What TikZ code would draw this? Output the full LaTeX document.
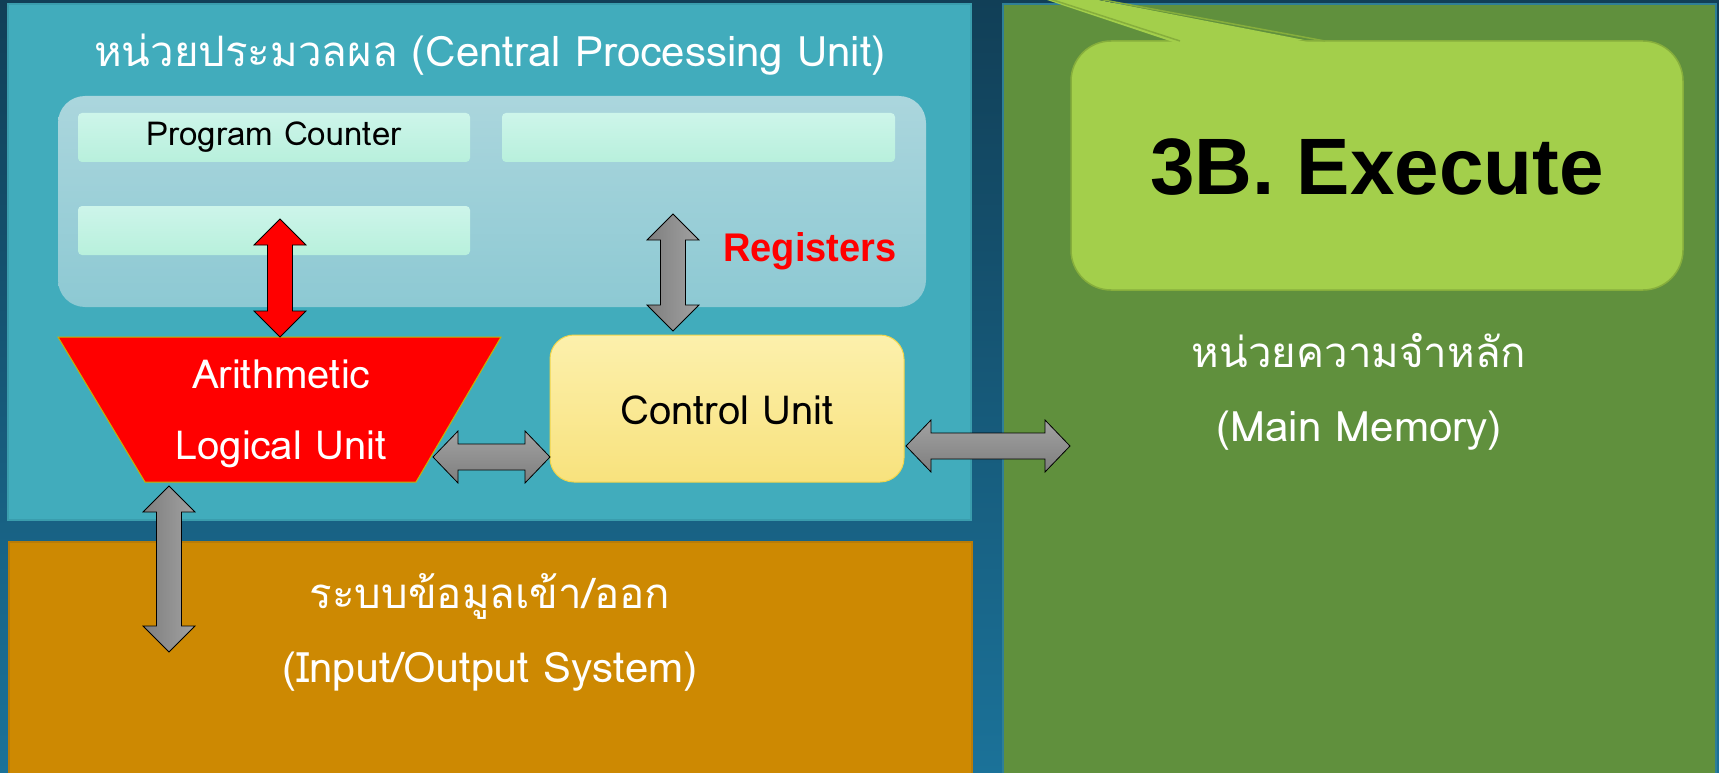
\documentclass[tikz,border=0pt]{standalone}
\usepackage{fontspec}
\setmainfont{Liberation Sans}
\newfontfamily\thaifont[Script=Thai]{Loma}
\newfontfamily\headfont[FakeStretch=0.95]{Liberation Sans}
\usetikzlibrary{calc}
\definecolor{bgtop}{HTML}{113F57}
\definecolor{bgbot}{HTML}{1B7299}
\definecolor{cpufill}{HTML}{41ACBC}
\definecolor{cpuline}{HTML}{3A9DAD}
\definecolor{iofill}{HTML}{CD8902}
\definecolor{ioline}{HTML}{B97C08}
\definecolor{memfill}{HTML}{60903D}
\definecolor{memline}{HTML}{2F7F96}
\definecolor{calfill}{HTML}{A3CF4B}
\definecolor{calline}{HTML}{86AE3C}
\definecolor{regtop}{HTML}{ABD6DD}
\definecolor{regbot}{HTML}{8DC9D3}
\definecolor{celltop}{HTML}{CDF5EA}
\definecolor{cellbot}{HTML}{B8F0DC}
\definecolor{cutop}{HTML}{FCF0AC}
\definecolor{cubot}{HTML}{F8E27D}
\definecolor{culine}{HTML}{F0D54A}
\definecolor{aluline}{HTML}{C8B400}
\definecolor{arrlight}{HTML}{A2A2A2}
\definecolor{arrdark}{HTML}{7E7E7E}
\tikzset{
  panel/.style={anchor=north west, inner sep=0pt, outer sep=0pt},
  lbl/.style={text=white, inner sep=0pt, font=\thaifont\fontsize{40}{44}\selectfont},
  biglbl/.style={lbl, font=\thaifont\fontsize{42}{46}\selectfont},
  cell/.style={panel, rounded corners=4pt, top color=celltop, bottom color=cellbot,
    minimum height=49pt},
  grayarrowv/.style={draw=black, line width=0.8pt, left color=arrdark, right color=arrlight},
  grayarrowh/.style={draw=black, line width=0.8pt, top color=arrlight, bottom color=arrdark},
  redarrow/.style={draw=black, line width=0.8pt, fill=red},
}
\newcommand\vdarrow[3]{%
  \path[#1] let \p1=#2, \p2=#3 in
   (\x1,\y1) -- (\x1+26pt,\y1-26pt) -- (\x1+12.5pt,\y1-26pt) -- (\x1+12.5pt,\y2+26pt)
   -- (\x1+26pt,\y2+26pt) -- (\x1,\y2) -- (\x1-26pt,\y2+26pt) -- (\x1-12.5pt,\y2+26pt)
   -- (\x1-12.5pt,\y1-26pt) -- (\x1-26pt,\y1-26pt) -- cycle;}
\newcommand\hdarrow[3]{%
  \path[#1] let \p1=#2, \p2=#3 in
   (\x1,\y1) -- (\x1+25pt,\y1+26pt) -- (\x1+25pt,\y1+13pt) -- (\x2-25pt,\y1+13pt)
   -- (\x2-25pt,\y1+26pt) -- (\x2,\y1) -- (\x2-25pt,\y1-26pt) -- (\x2-25pt,\y1-13pt)
   -- (\x1+25pt,\y1-13pt) -- (\x1+25pt,\y1-26pt) -- cycle;}
\begin{document}
\begin{tikzpicture}[x=1pt,y=-1pt]
\useasboundingbox (0,0) rectangle (1719,773);
\clip (0,0) rectangle (1719,773);
\shade[top color=bgtop, bottom color=bgbot] (0,0) rectangle (1719,773);

% main boxes
\node[panel, fill=cpufill, draw=cpuline, line width=1.5pt, minimum width=963pt, minimum height=516pt] (cpu) at (8,4) {};
\node[panel, fill=iofill, draw=ioline, line width=1.5pt, minimum width=963pt, minimum height=280pt] (io) at (9,542) {};
\node[panel, fill=memfill, draw=memline, line width=1.5pt, minimum width=713pt, minimum height=800pt] (mem) at (1003,4) {};

% callout
\fill[calfill] (1180,44) -- (985,-22) -- (1325,44) -- cycle;
\node[panel, fill=calfill, draw=calline, line width=1.5pt, rounded corners=40pt, minimum width=612pt, minimum height=249pt] (exec) at (1071,41) {};
\fill[calfill] (1182,45) -- (987,-20) -- (1323,45) -- cycle;
\draw[calline, line width=1.5pt] (1180,41) -- (985,-22) -- (1325,41);
\node[font=\bfseries\fontsize{80}{90}\selectfont, text=black] (exectxt) at ([yshift=-2pt]exec.center) {3B. Execute};

% CPU title
\node[lbl, font=\thaifont\fontsize{42}{46}\selectfont] (cputitle) at (490,55) {หน่วยประมวลผล (Central Processing Unit)};

% registers
\node[panel, rounded corners=27pt, top color=regtop, bottom color=regbot, minimum width=868pt, minimum height=211pt] (regs) at (58,96) {};
\node[cell, minimum width=392pt] (pc) at (78,113) {};
\node[font=\thaifont\fontsize{33}{36}\selectfont, text=black] (pctxt) at (pc.center) {Program Counter};
\node[cell, minimum width=393pt] (r2) at (502,113) {};
\node[cell, minimum width=392pt] (r3) at (78,206) {};
\node[font=\headfont\bfseries\fontsize{40}{44}\selectfont, text=red, inner sep=0pt] (reglbl) at (810,251) {Registers};

% ALU
\coordinate (aluNW) at (58,337);
\coordinate (aluNE) at (501,337);
\coordinate (aluSE) at (416,482);
\coordinate (aluSW) at (145,482);
\fill[red, draw=aluline, line width=1pt] (aluNW) -- (aluNE) -- (aluSE) -- (aluSW) -- cycle;
\node[lbl] (alu1) at (281,374) {Arithmetic};
\node[lbl] (alu2) at (281,449) {Logical Unit};

% control unit
\node[panel, rounded corners=24pt, top color=cutop, bottom color=cubot, draw=culine, line width=1pt, minimum width=354pt, minimum height=147pt] (cu) at (550,335) {};
\node[font=\thaifont\fontsize{40}{44}\selectfont, text=black, inner sep=0pt] (cutxt) at (727,410) {Control Unit};

% IO and memory texts
\node[biglbl] (iothai) at (490,596) {ระบบข้อมูลเข้า/ออก};
\node[biglbl] (ioeng) at (490,672) {(Input/Output System)};
\node[biglbl] (memthai) at (1359,351) {หน่วยความจำหลัก};
\node[biglbl] (memeng) at (1359,431) {(Main Memory)};

% arrows
\coordinate (redtop) at (280,219);
\coordinate (alutop) at (280,337);
\vdarrow{redarrow}{(redtop)}{(alutop)}
\coordinate (regdown) at (673,214);
\coordinate (cuup) at (673,331);
\vdarrow{grayarrowv}{(regdown)}{(cuup)}
\coordinate (alubot) at (169,486);
\coordinate (ioin) at (169,652);
\vdarrow{grayarrowv}{(alubot)}{(ioin)}
\coordinate (aluright) at (433,457);
\coordinate (cuwest) at (cu.west |- aluright);
\hdarrow{grayarrowh}{(aluright)}{(cuwest)}
\coordinate (cueast) at (906,446);
\coordinate (memin) at (1070,446);
\hdarrow{grayarrowh}{(cueast)}{(memin)}
\end{tikzpicture}
\end{document}
